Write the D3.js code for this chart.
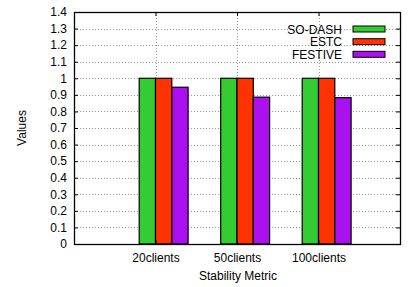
<!DOCTYPE html>
<html>
<head>
<meta charset="utf-8">
<script src="https://cdn.jsdelivr.net/npm/d3@7"></script>
<style>
  body { margin: 0; background: #fff; }
  text { font-family: "Liberation Sans", Arial, sans-serif; }
</style>
</head>
<body>
<svg id="chart" width="408" height="287"></svg>
<script>
// data
var categories = ["20clients", "50clients", "100clients"];
var seriesNames = ["SO-DASH", "ESTC", "FESTIVE"];
var soDash = [1, 1, 1];
var estc = [1, 1, 1];
var festive = [0.946, 0.886, 0.883];
var yTicks = [0, 0.1, 0.2, 0.3, 0.4, 0.5, 0.6, 0.7, 0.8, 0.9, 1, 1.1, 1.2, 1.3, 1.4];
var colors = ["#33cc33", "#ff3300", "#aa11ee"];

var series = [soDash, estc, festive];
var fontSize = "12px";

var svg = d3.select("#chart");
// plot box (note: "top" is taken by window.top, so use other names)
var plotL = 74, plotR = 400, plotT = 12, plotB = 244;

var x = d3.scaleLinear().domain([-1, 3]).range([plotL, plotR]);
var y = d3.scaleLinear().domain([0, 1.4]).range([plotB, plotT]);
var barW = 0.2;

// grid
var grid = svg.append("g");
grid.selectAll("line.h")
  .data(yTicks.slice(1, -1))
  .enter().append("line")
  .attr("x1", plotL).attr("x2", plotR)
  .attr("y1", function(d) { return Math.round(y(d)) + 0.5; })
  .attr("y2", function(d) { return Math.round(y(d)) + 0.5; })
  .attr("stroke", "#999").attr("stroke-width", 1).attr("stroke-dasharray", "1,2");
grid.selectAll("line.v")
  .data(categories)
  .enter().append("line")
  .attr("x1", function(d, i) { return Math.round(x(i)) + 0.5; })
  .attr("x2", function(d, i) { return Math.round(x(i)) + 0.5; })
  .attr("y1", plotT).attr("y2", plotB)
  .attr("stroke", "#999").attr("stroke-width", 1).attr("stroke-dasharray", "1,2");

// bars
series.forEach(function(vals, j) {
  svg.append("g").selectAll("rect")
    .data(vals)
    .enter().append("rect")
    .attr("x", function(d, i) { return x(i + (j - 1) * barW); })
    .attr("y", function(d) { return y(d); })
    .attr("width", x(barW) - x(0))
    .attr("height", function(d) { return y(0) - y(d); })
    .attr("fill", colors[j])
    .attr("stroke", "#000")
    .attr("stroke-width", 1.2);
});

// axes
var yAxis = svg.append("g")
  .attr("transform", "translate(" + plotL + ",0)")
  .call(d3.axisLeft(y).tickValues(yTicks).tickSize(-4).tickPadding(7)
    .tickFormat(function(d) { return String(+d.toFixed(1)); }));
var yAxisR = svg.append("g")
  .attr("transform", "translate(" + plotR + ",0)")
  .call(d3.axisRight(y).tickValues(yTicks).tickSize(-4).tickFormat(""));
var xAxis = svg.append("g")
  .attr("transform", "translate(0," + plotB + ")")
  .call(d3.axisBottom(x).tickValues([0, 1, 2]).tickSize(-4).tickPadding(9)
    .tickFormat(function(d) { return categories[d]; }));
var xAxisT = svg.append("g")
  .attr("transform", "translate(0," + plotT + ")")
  .call(d3.axisTop(x).tickValues([0, 1, 2]).tickSize(-4).tickFormat(""));

[yAxis, yAxisR, xAxis, xAxisT].forEach(function(a) {
  a.select(".domain").remove();
  a.selectAll("line").attr("stroke", "#000");
  a.selectAll("text").attr("font-size", fontSize).attr("fill", "#000")
    .style("font-family", "Liberation Sans, Arial, sans-serif");
});

// frame
svg.append("rect")
  .attr("x", plotL + 0.5).attr("y", plotT + 0.5)
  .attr("width", plotR - plotL).attr("height", plotB - plotT)
  .attr("fill", "none").attr("stroke", "#000").attr("stroke-width", 1.3);

// axis titles
svg.append("text")
  .attr("transform", "translate(26," + ((plotT + plotB) / 2) + ") rotate(-90)")
  .attr("text-anchor", "middle")
  .attr("font-size", fontSize)
  .text("Values");
svg.append("text")
  .attr("x", 238).attr("y", 280)
  .attr("text-anchor", "middle")
  .attr("font-size", fontSize)
  .text("Stability Metric");

// legend
var legendRows = [29, 41.7, 54.3];
var legend = svg.append("g");
seriesNames.forEach(function(name, j) {
  legend.append("rect")
    .attr("x", 353).attr("y", legendRows[j] - 3)
    .attr("width", 32).attr("height", 6)
    .attr("fill", colors[j]).attr("stroke", "#000").attr("stroke-width", 1);
  legend.append("text")
    .attr("x", 342).attr("y", legendRows[j] + 4.5)
    .attr("text-anchor", "end")
    .attr("font-size", fontSize)
    .text(name);
});
</script>
</body>
</html>
